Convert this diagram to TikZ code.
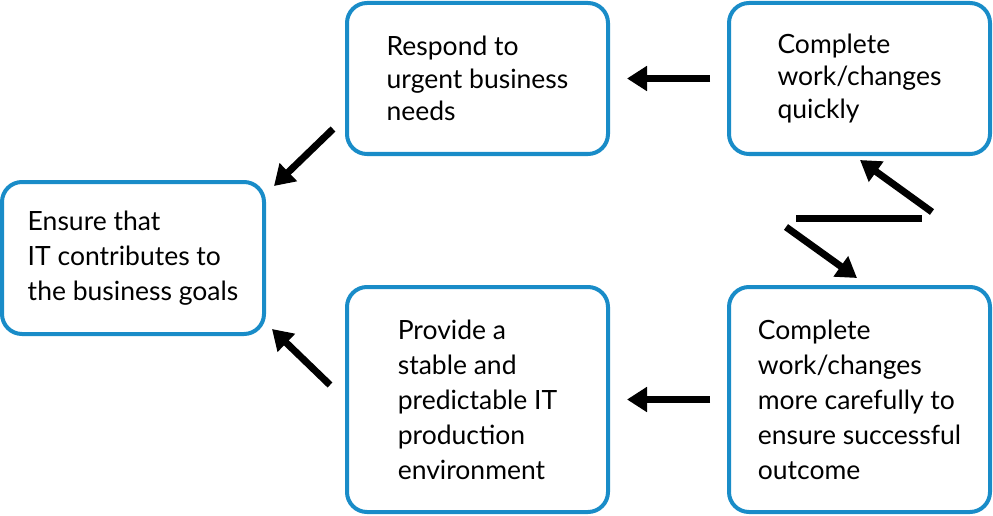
\documentclass[tikz,border=0pt]{standalone}
\usepackage{fontspec}
\setmainfont{Lato}
\usetikzlibrary{arrows.meta}
\definecolor{boxblue}{RGB}{25,140,200}
\tikzset{
  box/.style={draw=boxblue, line width=4pt, rounded corners=20pt, fill=white,
    align=left, inner sep=0pt, font=\fontsize{26.5}{35}\selectfont},
  tightbox/.style={box, font=\fontsize{26.5}{32.5}\selectfont},
  arr/.style={line width=7pt, -{Triangle[length=20pt,width=24pt]}},
  bar/.style={line width=7pt}
}
\begin{document}
\begin{tikzpicture}[x=1pt,y=-1pt]
\useasboundingbox (0,0) rectangle (993,516);
\node[box, minimum width=262pt, minimum height=152pt] (A) at (133,258) {Ensure that\\IT contributes to\\the business goals};
\node[tightbox, minimum width=261pt, minimum height=151pt] (B) at (477.5,78.5) {Respond to\\urgent business\\needs};
\node[tightbox, minimum width=261pt, minimum height=151pt] (C) at (859.5,78.5) {Complete\\work/changes\\quickly};
\node[box, minimum width=261pt, minimum height=225pt] (D) at (477.5,399.5) {Provide a\\stable and\\predictable IT\\production\\environment};
\node[box, minimum width=261pt, minimum height=225pt] (E) at (859.5,399.5) {Complete\\work/changes\\more carefully to\\ensure successful\\outcome};
\draw[arr, shorten <=17pt, shorten >=17pt] (C.west) -- (B.east);
\draw[arr, shorten <=17pt, shorten >=17pt] (E.west) -- (D.east);
\draw[arr] ([shift={(-12,-27)}]B.south west) -- ([shift={(8,6)}]A.north east);
\draw[arr] ([shift={(-15,100)}]D.north west) -- ([shift={(6,-7)}]A.south east);
\coordinate (zl) at (796,218);
\coordinate (zr) at (922,218);
\coordinate (z1s) at (932,212);
\coordinate (z1e) at (860,160);
\coordinate (z2s) at (786,227);
\coordinate (z2e) at (857,278);
\draw[bar] (zl) -- (zr);
\draw[arr] (z1s) -- (z1e);
\draw[arr] (z2s) -- (z2e);
\end{tikzpicture}
\end{document}
